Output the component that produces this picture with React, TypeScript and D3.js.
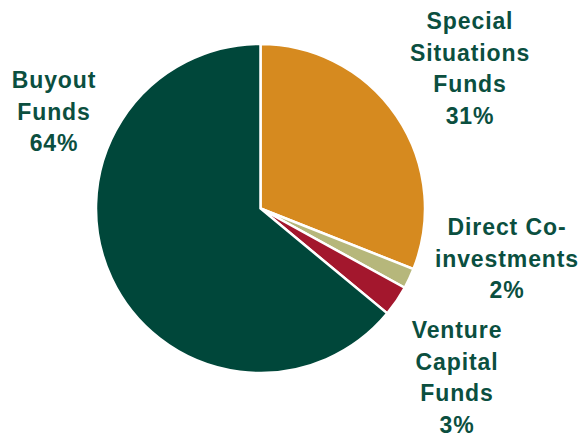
import React, { useRef, useEffect } from "react";
import * as d3 from "d3";

// slice order, clockwise from 12 o'clock
const categories = ["Special Situations Funds", "Direct Co-investments", "Venture Capital Funds", "Buyout Funds"];
const shares = [31, 2, 3, 64];
const labelLines = [
  ["Special", "Situations", "Funds", "31%"],
  ["Direct Co-", "investments", "2%"],
  ["Venture", "Capital", "Funds", "3%"],
  ["Buyout", "Funds", "64%"],
];

const colors = ["#D68A1F", "#B6B77B", "#A3172D", "#00473A"];
// label centre x and first baseline y (manual placement, as in the original)
const labelPos = [
  [470, 29],
  [507, 235],
  [457, 338],
  [54, 88],
];

const W = 583;
const H = 437;

const App = () => {
  const svgRef = useRef<SVGSVGElement>(null);

  useEffect(() => {
    if (!svgRef.current) return;
    const svg = d3.select(svgRef.current);
    svg.selectAll("*").remove();

    const cx = 260.5;
    const cy = 208.5;
    const radius = 164.5;

    const data = categories.map((name, i) => ({ name, value: shares[i], i }));
    const pie = d3
      .pie<{ name: string; value: number; i: number }>()
      .sort(null)
      .value((d) => d.value);
    const arc = d3
      .arc<d3.PieArcDatum<{ name: string; value: number; i: number }>>()
      .innerRadius(0)
      .outerRadius(radius);

    const g = svg.append("g").attr("transform", `translate(${cx},${cy})`);
    g.selectAll("path")
      .data(pie(data))
      .enter()
      .append("path")
      .attr("d", arc)
      .attr("fill", (d) => colors[d.data.i])
      .attr("stroke", "white")
      .attr("stroke-width", 2.5)
      .attr("stroke-linejoin", "miter");

    // labels
    const lineStep = 31.5;
    labelLines.forEach((lines, i) => {
      const t = svg
        .append("text")
        .attr("text-anchor", "middle")
        .attr("font-family", "'Liberation Sans', Arial, sans-serif")
        .attr("font-weight", "bold")
        .attr("font-size", 23)
        .attr("letter-spacing", 0.9)
        .attr("fill", "#0B4F3F");
      lines.forEach((line, j) => {
        t.append("tspan")
          .attr("x", labelPos[i][0])
          .attr("y", labelPos[i][1] + j * lineStep)
          .text(line);
      });
    });
  }, []);

  return (
    <div style={{ position: "absolute", left: 0, top: 0, background: "white" }}>
      <svg ref={svgRef} width={W} height={H} style={{ display: "block" }}></svg>
    </div>
  );
};

export default App;
